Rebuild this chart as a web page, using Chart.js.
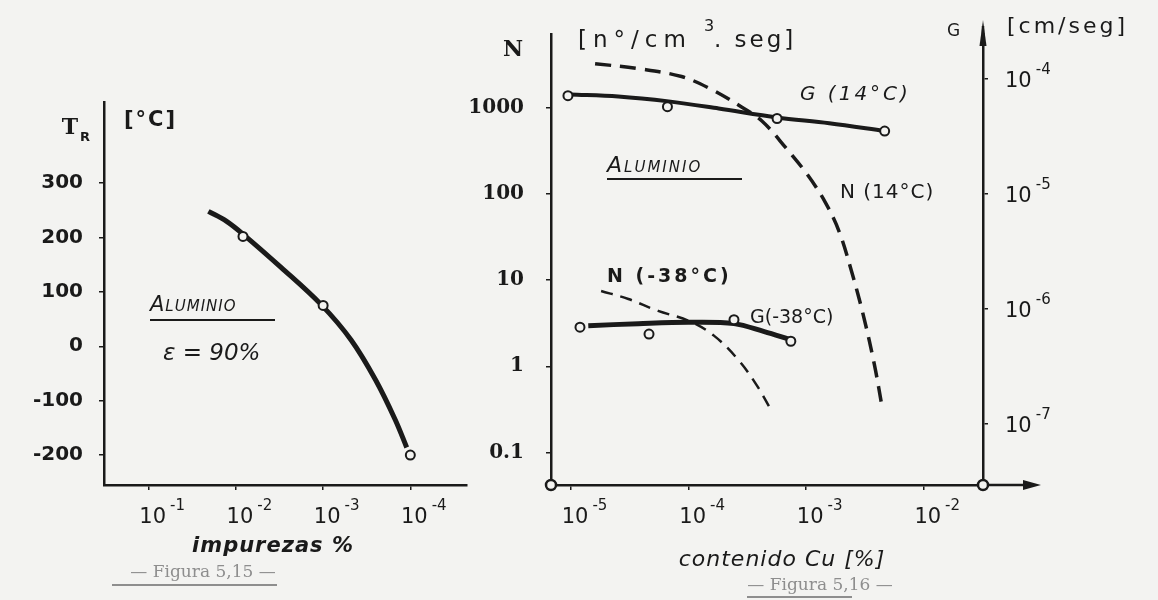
<!DOCTYPE html>
<html>
<head>
<meta charset="utf-8">
<script src="https://cdn.jsdelivr.net/npm/chart.js@4.4.1/dist/chart.umd.min.js"></script>
<style>
  html, body { margin: 0; padding: 0; background: #f3f3f1; }
  body { width: 1158px; height: 600px; position: relative; overflow: hidden; }
  canvas { position: absolute; top: 0; }
  #fig15 { left: 0; }
  #fig16 { left: 460px; }
</style>
</head>
<body>
<canvas id="fig15" width="480" height="600"></canvas>
<canvas id="fig16" width="698" height="600"></canvas>
<script>
// --- Figura 5,15 : T_R vs impurezas (%) ---
const impurityTicks = [1e-1, 1e-2, 1e-3, 1e-4];
const tempTicks = [300, 200, 100, 0, -100, -200];
const impurityCurve = [2.07e-2, 1.29e-2, 8.0e-3, 3.04e-3, 1.06e-3, 4.8e-4, 2.5e-4, 1.49e-4, 1.1e-4];
const tempCurve = [248, 230, 204, 145, 77, 12, -62, -135, -186];
const impurityMeasured = [8.3e-3, 1.0e-3, 1.0e-4];
const tempMeasured = [202, 75, -200];

// --- Figura 5,16 : N y G vs contenido Cu (%) ---
const cuTicks = [1e-5, 1e-4, 1e-3, 1e-2];
const nTicks = [1000, 100, 10, 1, 0.1];
const gTicks = [1e-4, 1e-5, 1e-6, 1e-7];

const cuN14 = [1.6e-5, 3.74e-5, 8.7e-5, 1.57e-4, 2.67e-4, 4.2e-4, 6.7e-4, 1.02e-3, 1.45e-3, 1.91e-3, 2.43e-3, 3.07e-3, 3.81e-3, 4.47e-3];
const n14 = [3290, 2880, 2330, 1650, 1080, 710, 347, 170, 81, 36.6, 12.7, 3.86, 1.03, 0.31];
const cuN38 = [1.8e-5, 3.07e-5, 5.5e-5, 1.0e-4, 1.64e-4, 2.67e-4, 3.8e-4, 5.1e-4];
const n38 = [7.5, 6.05, 4.4, 3.38, 2.27, 1.17, 0.6, 0.3];

const cuG14Curve = [9.8e-6, 2.52e-5, 6.75e-5, 1.8e-4, 5.65e-4, 1.57e-3, 4.65e-3];
const g14Curve = [7.28e-5, 7.0e-5, 6.34e-5, 5.5e-5, 4.6e-5, 4.1e-5, 3.5e-5];
const cuG14 = [9.4e-6, 6.6e-5, 5.65e-4, 4.65e-3];
const g14 = [7.1e-5, 5.7e-5, 4.5e-5, 3.5e-5];

const cuG38Curve = [1.4e-5, 3.74e-5, 1.0e-4, 2.43e-4, 4.4e-4, 7.2e-4];
const g38Curve = [7.1e-7, 7.4e-7, 7.6e-7, 7.4e-7, 6.3e-7, 5.4e-7];
const cuG38 = [1.19e-5, 4.6e-5, 2.43e-4, 7.4e-4];
const g38 = [6.9e-7, 6.0e-7, 8.0e-7, 5.2e-7];

const INK = '#1a1a1a';
const PAPER = '#f3f3f1';
const GREY = '#8e8e8e';

const xy = (xs, ys) => xs.map((x, i) => ({ x: x, y: ys[i] }));
const fixTicks = (values) => (scale) => { scale.ticks = values.map(v => ({ value: v })); };

// "10" with a raised exponent, hand-lettering style
const drawPow = (ctx, v, x, base, align) => {
    const exp = String(Math.round(Math.log10(v)));
    ctx.font = '21px "DejaVu Sans"';
    const w = ctx.measureText('10').width;
    const left = align === 'center' ? x - w / 2 : x;
    ctx.textAlign = 'left';
    ctx.fillText('10', left, base);
    ctx.font = '15px "DejaVu Sans"';
    ctx.fillText(exp, left + w + 4, base - 13);
};

const drawNotes = (ctx, notes) => {
    notes.forEach(n => {
        ctx.font = n.font;
        ctx.fillStyle = n.color || INK;
        ctx.textAlign = n.align || 'left';
        ctx.letterSpacing = (n.spacing || 0) + 'px';
        ctx.fillText(n.text, n.x, n.y);
        ctx.letterSpacing = '0px';
        if (n.under) {
            ctx.strokeStyle = n.color || INK;
            ctx.lineWidth = 2;
            ctx.beginPath();
            ctx.moveTo(n.under[0], n.under[2]);
            ctx.lineTo(n.under[1], n.under[2]);
            ctx.stroke();
        }
    });
};

const pointSet = (data, yAxisID) => ({
    data: data,
    yAxisID: yAxisID,
    showLine: false,
    pointRadius: 4.5,
    pointBorderWidth: 2,
    pointBackgroundColor: PAPER,
    pointBorderColor: INK,
    order: 0
});

const lineSet = (data, yAxisID, width, dash) => ({
    data: data,
    yAxisID: yAxisID,
    borderColor: INK,
    borderWidth: width,
    borderDash: dash || [],
    pointRadius: 0,
    tension: 0.35,
    order: 1
});

const axisGrid = { display: true, drawOnChartArea: false, drawTicks: true, tickLength: 5, color: INK, lineWidth: 1.5 };
const axisBorder = { display: true, color: INK, width: 2.5 };

// ---------- Figura 5,15 ----------
const notes15 = [
    { text: 'T', x: 70, y: 134, font: 'bold 22px "DejaVu Serif"', align: 'center' },
    { text: 'R', x: 80, y: 141, font: 'bold 13px "DejaVu Sans"' },
    { text: '[°C]', x: 124, y: 126, font: 'bold 21px "DejaVu Sans"', spacing: 2 },
    { text: 'Aluminio', x: 150, y: 311, font: 'italic small-caps 21px "DejaVu Sans"', spacing: 1, under: [150, 275, 320] },
    { text: 'ε = 90%', x: 163, y: 360, font: 'italic 23px "DejaVu Sans"' },
    { text: 'impurezas %', x: 273, y: 552, font: 'italic bold 21px "DejaVu Sans"', align: 'center', spacing: 1 },
    { text: '— Figura 5,15 —', x: 203, y: 577, font: '17px "DejaVu Serif"', align: 'center', color: GREY, under: [112, 277, 585] }
];

new Chart(document.getElementById('fig15'), {
    type: 'line',
    data: {
        datasets: [
            pointSet(xy(impurityMeasured, tempMeasured), 'y'),
            lineSet(xy(impurityCurve, tempCurve), 'y', 5)
        ]
    },
    options: {
        responsive: false,
        animation: false,
        devicePixelRatio: 1,
        layout: { padding: { top: 102, right: 13, left: 0, bottom: 0 } },
        plugins: { legend: { display: false }, tooltip: { enabled: false } },
        scales: {
            x: {
                type: 'logarithmic',
                reverse: true,
                bounds: 'data',
                min: Math.pow(10, -4.65),
                max: Math.pow(10, -0.487),
                afterBuildTicks: fixTicks(impurityTicks),
                afterFit: (s) => { s.height = 115; },
                ticks: { display: false },
                grid: axisGrid,
                border: axisBorder
            },
            y: {
                type: 'linear',
                bounds: 'data',
                min: -255,
                max: 449,
                afterBuildTicks: fixTicks(tempTicks),
                afterFit: (s) => { s.width = 104; },
                ticks: {
                    color: INK,
                    padding: 16,
                    font: { family: 'DejaVu Sans', size: 20, weight: 'bold' },
                    callback: (v) => String(v)
                },
                grid: axisGrid,
                border: axisBorder
            }
        }
    },
    plugins: [{
        id: 'hand15',
        afterDraw(chart) {
            const ctx = chart.ctx;
            const x = chart.scales.x;
            ctx.save();
            ctx.fillStyle = INK;
            impurityTicks.forEach(v => drawPow(ctx, v, x.getPixelForValue(v) + 4, 523, 'center'));
            drawNotes(ctx, notes15);
            ctx.restore();
        }
    }]
});

// ---------- Figura 5,16 ----------
const notes16 = [
    { text: 'N', x: 53, y: 56, font: 'bold 22px "DejaVu Serif"', align: 'center' },
    { text: '[n°/cm', x: 118, y: 47, font: '23px "DejaVu Sans"', spacing: 6 },
    { text: '3', x: 244, y: 31, font: '16px "DejaVu Sans"' },
    { text: '. seg]', x: 254, y: 47, font: '23px "DejaVu Sans"', spacing: 3 },
    { text: 'G', x: 487, y: 36, font: '17px "DejaVu Sans"' },
    { text: '[cm/seg]', x: 547, y: 33, font: '22px "DejaVu Sans"', spacing: 3 },
    { text: 'G (14°C)', x: 340, y: 100, font: 'italic 20px "DejaVu Sans"', spacing: 3 },
    { text: 'N (14°C)', x: 380, y: 198, font: '20px "DejaVu Sans"', spacing: 1 },
    { text: 'Aluminio', x: 147, y: 172, font: 'italic small-caps 22px "DejaVu Sans"', spacing: 2, under: [147, 282, 179] },
    { text: 'N (-38°C)', x: 147, y: 282, font: 'bold 19px "DejaVu Sans"', spacing: 3 },
    { text: 'G(-38°C)', x: 290, y: 323, font: '19px "DejaVu Sans"' },
    { text: 'contenido Cu [%]', x: 322, y: 566, font: 'italic 22px "DejaVu Sans"', align: 'center', spacing: 1 },
    { text: '— Figura 5,16 —', x: 360, y: 590, font: '17px "DejaVu Serif"', align: 'center', color: GREY, under: [287, 392, 597] }
];

new Chart(document.getElementById('fig16'), {
    type: 'line',
    data: {
        datasets: [
            pointSet(xy(cuG14, g14), 'g'),
            pointSet(xy(cuG38, g38), 'g'),
            lineSet(xy(cuG14Curve, g14Curve), 'g', 4),
            lineSet(xy(cuG38Curve, g38Curve), 'g', 5),
            lineSet(xy(cuN14, n14), 'y', 3.5, [16, 9]),
            lineSet(xy(cuN38, n38), 'y', 2.5, [12, 8])
        ]
    },
    options: {
        responsive: false,
        animation: false,
        devicePixelRatio: 1,
        layout: { padding: { top: 30, right: 0, left: 0, bottom: 0 } },
        plugins: { legend: { display: false }, tooltip: { enabled: false } },
        scales: {
            x: {
                type: 'logarithmic',
                bounds: 'data',
                min: Math.pow(10, -5.171),
                max: Math.pow(10, -1.496),
                afterBuildTicks: fixTicks(cuTicks),
                afterFit: (s) => { s.height = 115; },
                ticks: { display: false },
                grid: axisGrid,
                border: axisBorder
            },
            y: {
                type: 'logarithmic',
                position: 'left',
                bounds: 'data',
                min: Math.pow(10, -1.38),
                max: Math.pow(10, 3.862),
                afterBuildTicks: fixTicks(nTicks),
                afterFit: (s) => { s.width = 91; },
                ticks: {
                    color: INK,
                    padding: 22,
                    font: { family: 'DejaVu Serif', size: 20, weight: 'bold' },
                    callback: (v) => String(v)
                },
                grid: axisGrid,
                border: axisBorder
            },
            g: {
                type: 'logarithmic',
                position: 'right',
                bounds: 'data',
                min: Math.pow(10, -7.534),
                max: Math.pow(10, -3.612),
                afterBuildTicks: fixTicks(gTicks),
                afterFit: (s) => { s.width = 175; },
                ticks: { display: false },
                grid: axisGrid,
                border: axisBorder
            }
        }
    },
    plugins: [{
        id: 'hand16',
        afterDraw(chart) {
            const ctx = chart.ctx;
            const a = chart.chartArea;
            const x = chart.scales.x;
            const g = chart.scales.g;
            ctx.save();
            ctx.fillStyle = INK;
            ctx.strokeStyle = INK;

            // arrow on the concentration axis
            ctx.lineWidth = 2.5;
            ctx.beginPath();
            ctx.moveTo(a.right, a.bottom);
            ctx.lineTo(a.right + 48, a.bottom);
            ctx.stroke();
            ctx.beginPath();
            ctx.moveTo(a.right + 58, a.bottom);
            ctx.lineTo(a.right + 40, a.bottom - 5);
            ctx.lineTo(a.right + 40, a.bottom + 5);
            ctx.closePath();
            ctx.fill();

            // G axis runs up a little and ends in a heavy tip
            ctx.beginPath();
            ctx.moveTo(a.right, a.top);
            ctx.lineTo(a.right, a.top - 8);
            ctx.stroke();
            ctx.beginPath();
            ctx.moveTo(a.right, a.top - 14);
            ctx.lineTo(a.right - 3.5, a.top + 12);
            ctx.lineTo(a.right + 3.5, a.top + 12);
            ctx.closePath();
            ctx.fill();

            // small circles where the axes meet
            [a.left, a.right].forEach(px => {
                ctx.beginPath();
                ctx.arc(px, a.bottom, 5, 0, Math.PI * 2);
                ctx.fillStyle = PAPER;
                ctx.fill();
                ctx.lineWidth = 2.5;
                ctx.stroke();
            });

            ctx.fillStyle = INK;
            cuTicks.forEach(v => drawPow(ctx, v, x.getPixelForValue(v) + 4, 523, 'center'));
            gTicks.forEach(v => drawPow(ctx, v, a.right + 22, g.getPixelForValue(v) + 8, 'left'));
            drawNotes(ctx, notes16);
            ctx.restore();
        }
    }]
});
</script>
</body>
</html>
